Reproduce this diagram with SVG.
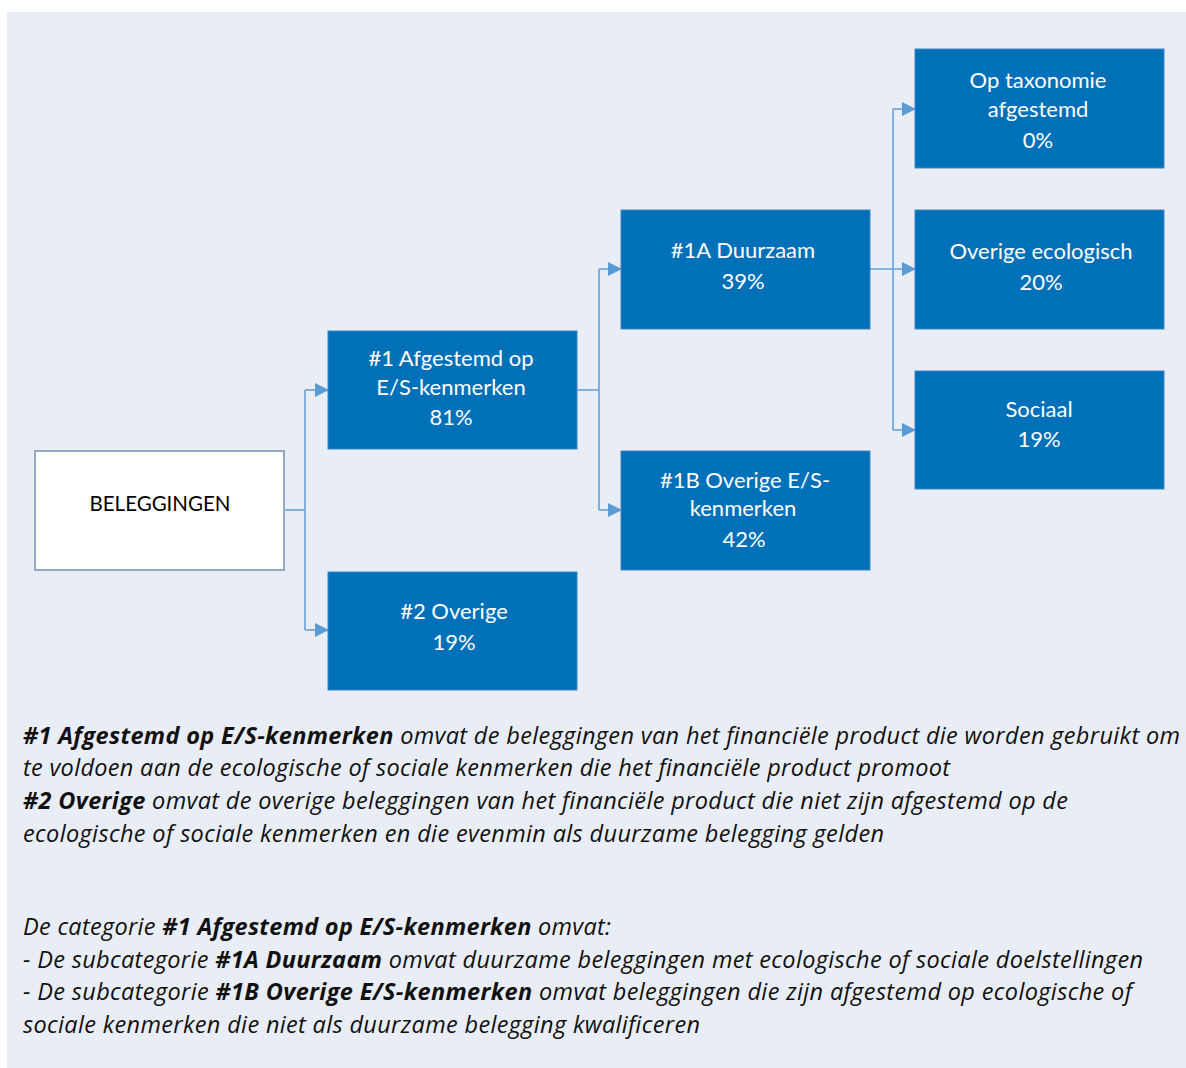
<svg xmlns="http://www.w3.org/2000/svg" width="1186" height="1068" viewBox="0 0 1186 1068">
<style>
.box{fill:#0070B8;stroke:#3F86C4;stroke-width:1}
.root{fill:#FFFFFF;stroke:#95AAC2;stroke-width:2}
.nt{font-family:Lato,"Liberation Sans",sans-serif;font-size:22px;fill:#FFFFFF;text-anchor:middle}
.rt{font-family:Lato,"Liberation Sans",sans-serif;font-size:20.5px;fill:#000000;text-anchor:middle}
.conn{fill:none;stroke:#6A9FD8;stroke-width:1.6}
.body{font-family:"Open Sans","Noto Sans",sans-serif;font-size:23.5px;font-style:italic;fill:#111111}
.b{font-weight:bold}
</style>
<defs>
<marker id="arr" markerWidth="14" markerHeight="14" refX="13" refY="7" orient="auto" markerUnits="userSpaceOnUse">
<path d="M0,0 L14,7 L0,14 Z" fill="#5B9BD5"/>
</marker>
</defs>
<rect x="0" y="0" width="1186" height="1068" fill="#FFFFFF"/>
<rect x="7" y="12" width="1179" height="1056" fill="#E9EDF6"/>
<g id="connectors">
<path class="conn" d="M284,510 H305"/>
<path class="conn" d="M305,390 V630"/>
<path class="conn" d="M305,390 H328" marker-end="url(#arr)"/>
<path class="conn" d="M305,630 H328" marker-end="url(#arr)"/>
<path class="conn" d="M577,390 H599"/>
<path class="conn" d="M599,269 V510"/>
<path class="conn" d="M599,269 H621" marker-end="url(#arr)"/>
<path class="conn" d="M599,510 H621" marker-end="url(#arr)"/>
<path class="conn" d="M870,269 H915" marker-end="url(#arr)"/>
<path class="conn" d="M893,109 V430"/>
<path class="conn" d="M893,109 H915" marker-end="url(#arr)"/>
<path class="conn" d="M893,430 H915" marker-end="url(#arr)"/>
</g>
<g id="node-beleggingen">
<rect class="root" x="35" y="451" width="249" height="119"/>
<text class="rt" x="160" y="511">BELEGGINGEN</text>
</g>
<g id="node-1">
<rect class="box" x="328" y="331" width="249" height="118"/>
<text class="nt" x="451" y="366">#1 Afgestemd op</text>
<text class="nt" x="451" y="395">E/S-kenmerken</text>
<text class="nt" x="451" y="425">81%</text>
</g>
<g id="node-2">
<rect class="box" x="328" y="572" width="249" height="118"/>
<text class="nt" x="454" y="619">#2 Overige</text>
<text class="nt" x="454" y="650">19%</text>
</g>
<g id="node-1a">
<rect class="box" x="621" y="210" width="249" height="119"/>
<text class="nt" x="743" y="258">#1A Duurzaam</text>
<text class="nt" x="743" y="289">39%</text>
</g>
<g id="node-1b">
<rect class="box" x="621" y="451" width="249" height="119"/>
<text class="nt" x="745" y="488">#1B Overige E/S-</text>
<text class="nt" x="743" y="516">kenmerken</text>
<text class="nt" x="744" y="547">42%</text>
</g>
<g id="node-tax">
<rect class="box" x="915" y="49" width="249" height="119"/>
<text class="nt" x="1038" y="88">Op taxonomie</text>
<text class="nt" x="1038" y="117">afgestemd</text>
<text class="nt" x="1038" y="148">0%</text>
</g>
<g id="node-eco">
<rect class="box" x="915" y="210" width="249" height="119"/>
<text class="nt" x="1041" y="259">Overige ecologisch</text>
<text class="nt" x="1041" y="290">20%</text>
</g>
<g id="node-soc">
<rect class="box" x="915" y="371" width="249" height="118"/>
<text class="nt" x="1039" y="417">Sociaal</text>
<text class="nt" x="1039" y="447">19%</text>
</g>
<g id="legend">
<text class="body" x="23" y="744" textLength="1157" lengthAdjust="spacing"><tspan class="b">#1 Afgestemd op E/S-kenmerken</tspan> omvat de beleggingen van het financiële product die worden gebruikt om</text>
<text class="body" x="23" y="776" textLength="927" lengthAdjust="spacing">te voldoen aan de ecologische of sociale kenmerken die het financiële product promoot</text>
<text class="body" x="23" y="809" textLength="1045" lengthAdjust="spacing"><tspan class="b">#2 Overige</tspan> omvat de overige beleggingen van het financiële product die niet zijn afgestemd op de</text>
<text class="body" x="23" y="842" textLength="861" lengthAdjust="spacing">ecologische of sociale kenmerken en die evenmin als duurzame belegging gelden</text>
<text class="body" x="23" y="935" textLength="588" lengthAdjust="spacing">De categorie <tspan class="b">#1 Afgestemd op E/S-kenmerken</tspan> omvat:</text>
<text class="body" x="23" y="968" textLength="1120" lengthAdjust="spacing">- De subcategorie <tspan class="b">#1A Duurzaam</tspan> omvat duurzame beleggingen met ecologische of sociale doelstellingen</text>
<text class="body" x="23" y="1000" textLength="1109" lengthAdjust="spacing">- De subcategorie <tspan class="b">#1B Overige E/S-kenmerken</tspan> omvat beleggingen die zijn afgestemd op ecologische of</text>
<text class="body" x="23" y="1033" textLength="677" lengthAdjust="spacing">sociale kenmerken die niet als duurzame belegging kwalificeren</text>
</g>
</svg>
